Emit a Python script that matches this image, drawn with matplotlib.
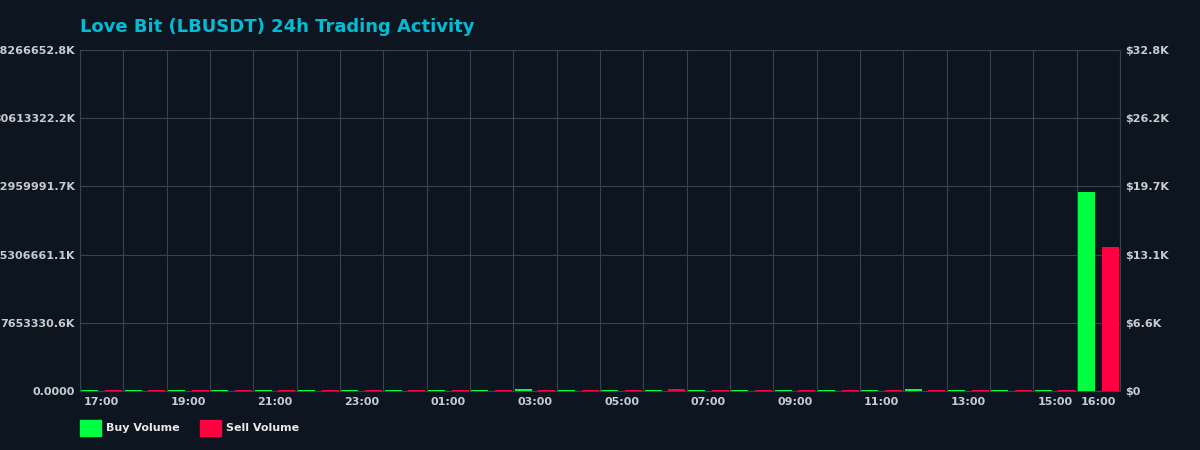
import matplotlib
matplotlib.use("Agg")
import matplotlib.pyplot as plt
import numpy as np
from matplotlib.patches import Rectangle
from matplotlib.ticker import FuncFormatter, FixedLocator

# ---- data ----
hours = ["17:00", "18:00", "19:00", "20:00", "21:00", "22:00", "23:00", "00:00",
         "01:00", "02:00", "03:00", "04:00", "05:00", "06:00", "07:00", "08:00",
         "09:00", "10:00", "11:00", "12:00", "13:00", "14:00", "15:00", "16:00"]
# volumes in tokens (LB)
buy_volume = [118e6, 105e6, 96e6, 124e6, 110e6, 101e6, 115e6, 98e6,
              120e6, 108e6, 245e6, 112e6, 103e6, 119e6, 97e6, 126e6,
              109e6, 114e6, 100e6, 235e6, 107e6, 117e6, 111e6, 22295e6]
sell_volume = [112e6, 99e6, 121e6, 104e6, 116e6, 95e6, 123e6, 107e6,
               102e6, 118e6, 110e6, 97e6, 125e6, 240e6, 106e6, 113e6,
               100e6, 119e6, 108e6, 96e6, 122e6, 103e6, 115e6, 16123e6]
left_max = 38266652780      # token axis max
right_max = 32800           # USD axis max
label_idx = [0, 2, 4, 6, 8, 10, 12, 14, 16, 18, 20, 22, 23]

# ---- style ----
BG = "#0c1520"
GRID = "#3a424d"
TICK = "#c8ccd0"
GREEN = "#00ff41"
RED = "#ff0040"
TITLE = "#00bcd4"

plt.rcParams["font.family"] = ["DejaVu Sans"]
plt.rcParams["font.weight"] = "bold"

fig = plt.figure(figsize=(12, 4.5), dpi=100, facecolor=BG)
ax = fig.add_axes([80 / 1200, 1 - 391 / 450, 1040 / 1200, 341 / 450])
ax.set_facecolor(BG)

x = np.arange(len(hours))
w = 0.39
off = 0.272
ax.bar(x - off, buy_volume, width=w, color=GREEN, zorder=3)
ax.bar(x + off, sell_volume, width=w, color=RED, zorder=3)

ax.set_xlim(-0.5, len(hours) - 0.5)
ax.set_ylim(0, left_max)

# x axis
ax.xaxis.set_major_locator(FixedLocator(label_idx))
ax.set_xticklabels([hours[i] for i in label_idx])
ax.xaxis.set_minor_locator(FixedLocator(np.arange(len(hours) + 1) - 0.5))
ax.grid(which="minor", axis="x", color=GRID, linewidth=0.8)
ax.tick_params(axis="x", which="both", length=0, pad=4.3, colors=TICK, labelsize=8)

# left y axis
yt = np.linspace(0, left_max, 6)
ax.set_yticks(yt)
ax.yaxis.set_major_formatter(FuncFormatter(
    lambda v, p: "0.0000" if v == 0 else f"{v / 1000:.1f}K"))
ax.grid(which="major", axis="y", color=GRID, linewidth=0.8)
ax.tick_params(axis="y", length=0, pad=3.6, colors=TICK, labelsize=8)
ax.set_axisbelow(True)

for s in ax.spines.values():
    s.set_color(GRID)
    s.set_linewidth(0.8)

# right y axis (USD)
ax2 = ax.twinx()
ax2.set_ylim(0, right_max)
ax2.set_yticks(np.linspace(0, right_max, 6))
ax2.yaxis.set_major_formatter(FuncFormatter(
    lambda v, p: "$0" if v == 0 else f"${v / 1000:.1f}K"))
ax2.tick_params(axis="y", length=0, pad=4.0, colors=TICK, labelsize=8)
for s in ax2.spines.values():
    s.set_visible(False)

for lab in ax.get_xticklabels() + ax.get_yticklabels() + ax2.get_yticklabels():
    lab.set_fontweight("bold")

# title
fig.text(80 / 1200, 1 - 31.5 / 450, "Love Bit (LBUSDT) 24h Trading Activity",
         color=TITLE, fontsize=13, fontweight="bold", ha="left", va="baseline")

# legend
fig.add_artist(Rectangle((80 / 1200, 1 - 436 / 450), 21 / 1200, 16 / 450,
                         transform=fig.transFigure, color=GREEN))
fig.text(105.5 / 1200, 1 - 428 / 450, "Buy Volume", color="#e8e8e8",
         fontsize=8, fontweight="bold", ha="left", va="center")
fig.add_artist(Rectangle((200 / 1200, 1 - 436 / 450), 21 / 1200, 16 / 450,
                         transform=fig.transFigure, color=RED))
fig.text(225.5 / 1200, 1 - 428 / 450, "Sell Volume", color="#e8e8e8",
         fontsize=8, fontweight="bold", ha="left", va="center")

fig.savefig("out.png", dpi=100, facecolor=BG)
